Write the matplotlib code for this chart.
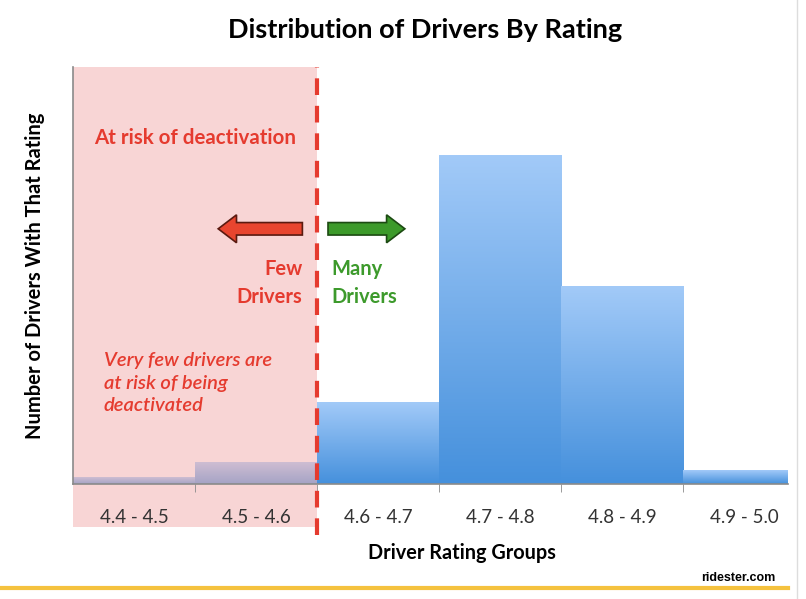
import numpy as np
import matplotlib
matplotlib.use("Agg")
import matplotlib.pyplot as plt
from matplotlib.patches import FancyArrow, Rectangle
from matplotlib.transforms import blended_transform_factory
from matplotlib.lines import Line2D

plt.rcParams['font.family'] = ['Lato', 'DejaVu Sans']

# data (relative counts)
groups = ["4.4 - 4.5", "4.5 - 4.6", "4.6 - 4.7", "4.7 - 4.8", "4.8 - 4.9", "4.9 - 5.0"]
drivers = [2.1, 6.4, 24.7, 100, 60, 4]
risk_groups = 2  # first two groups shaded

RED = "#e53b2f"
GREEN = "#3d9a2c"

fig = plt.figure(figsize=(8.06, 5.99), dpi=100)
ax = fig.add_axes([73 / 806, 115 / 599, 715 / 806, 417 / 599])

x = np.arange(len(groups))
ymax = 127

# gradient bars
grad = np.linspace(0, 1, 256).reshape(-1, 1)
cmap = matplotlib.colors.LinearSegmentedColormap.from_list("b", ["#4590dc", "#a2caf8"])
bars = ax.bar(x, drivers, width=1.0, color="none", edgecolor="none", zorder=2)
for b in bars:
    bx, bw, bh = b.get_x(), b.get_width(), b.get_height()
    im = ax.imshow(grad, cmap=cmap, origin="lower", aspect="auto",
                   extent=[bx, bx + bw, 0, bh], zorder=2)
    im.set_clip_path(b)
    im.set_clip_box(ax.bbox)
ax.set_xlim(-0.5, 5.36)
ax.set_ylim(0, ymax)

# pink risk region (extends down over the tick labels)
trans = blended_transform_factory(ax.transData, fig.transFigure)
pink = Rectangle((-0.5, 1 - 527 / 599), risk_groups, (527 - 67) / 599,
                 transform=trans, facecolor="#f4b3b3", alpha=0.55,
                 edgecolor="none", zorder=2.3, clip_on=False)
ax.add_patch(pink)

# dashed threshold line
ax.add_line(Line2D([risk_groups - 0.5] * 2, [1 - 535 / 599, 1 - 67 / 599],
                   transform=trans, color=RED, lw=3, dashes=(4, 2.6),
                   zorder=5, clip_on=False))

# axes styling
ax.xaxis.set_zorder(2.5)
for s in ["top", "right"]:
    ax.spines[s].set_visible(False)
for s in ["left", "bottom"]:
    ax.spines[s].set_color("#8a8a8a")
    ax.spines[s].set_linewidth(1.2)
ax.set_yticks([])
ax.set_xticks(x)
ax.set_xticklabels(groups, fontsize=13.5, color="#333333")
ax.tick_params(axis="x", length=0, pad=18)
ax.set_xticks(x[:-1] + 0.5, minor=True)
ax.tick_params(axis="x", which="minor", length=6, color="#8a8a8a")

ax.set_xlabel("Driver Rating Groups", fontsize=14.3, fontweight="bold")
ax.xaxis.set_label_coords(0.544, -0.141)
ax.set_ylabel("Number of Drivers With That Rating", fontsize=14.5, fontweight="bold", labelpad=20)
fig.text(425 / 806, 1 - 30 / 599, "Distribution of Drivers By Rating", ha="center",
         va="center", fontsize=19.5, fontweight="bold")

# annotations
ax.text(0.5, 0.83 * ymax, "At risk of deactivation", ha="center",
        va="center", color=RED, fontsize=14.8, fontweight="bold", zorder=6)
ax.text(1.38, 0.482 * ymax, "Few\nDrivers", ha="right", va="center", color=RED,
        fontsize=14.5, fontweight="bold", linespacing=1.45, zorder=6)
ax.text(1.62, 0.482 * ymax, "Many\nDrivers", ha="left", va="center", color=GREEN,
        fontsize=14.5, fontweight="bold", linespacing=1.45, zorder=6)
ax.text(-0.25, 0.242 * ymax, "Very few drivers are\nat risk of being\ndeactivated",
        ha="left", va="center", color=RED, fontsize=14.5, style="italic",
        fontweight="semibold", linespacing=1.42, zorder=6)

# arrows
ay = 0.612 * ymax
ax.add_patch(FancyArrow(1.38, ay, -0.69, 0, width=3.8, head_width=8.5, head_length=0.15,
                        length_includes_head=True, facecolor="#e8452f",
                        edgecolor="#5a1a10", lw=1.2, zorder=6))
ax.add_patch(FancyArrow(1.59, ay, 0.63, 0, width=3.8, head_width=8.5, head_length=0.15,
                        length_includes_head=True, facecolor="#3c9a2a",
                        edgecolor="#1c4a12", lw=1.2, zorder=6))

# footer
fig.add_artist(Line2D([0, 788 / 806], [1 - 588 / 599] * 2, color="#f5c23e", lw=3))
fig.add_artist(Line2D([797 / 806] * 2, [0, 1], color="#dddddd", lw=1))
fig.text(775 / 806, 1 - 578 / 599, "ridester.com", ha="right", va="center",
         fontsize=9, fontweight="bold", family=["Liberation Sans", "DejaVu Sans"])

fig.savefig("out.png", dpi=100)
